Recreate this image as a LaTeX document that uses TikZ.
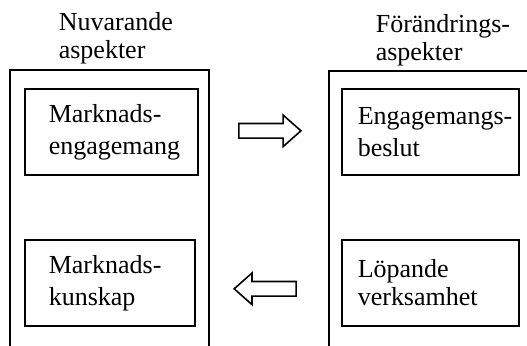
\documentclass[tikz,border=0pt]{standalone}
\usepackage{fontspec}
\setmainfont{Liberation Serif}
\usetikzlibrary{shapes.arrows,calc}

\begin{document}
\begin{tikzpicture}[
    x=0.5pt,y=-0.5pt,
    line width=0.8pt,
    frame/.style={draw,line width=0.9pt},
    aspect/.style={draw,rectangle,anchor=north west,align=left,inner sep=0pt,
        inner xsep=12pt,minimum height=43pt,
        font=\fontsize{13pt}{16pt}\selectfont},
    head/.style={anchor=north west,align=left,inner sep=0pt,
        font=\fontsize{13pt}{14pt}\selectfont},
    blockarrow/.style={draw,single arrow,inner sep=0pt,text height=3.25pt,text depth=3.25pt,
        minimum height=31pt,single arrow head extend=4.25pt,single arrow tip angle=83}
]
\useasboundingbox (0,0) rectangle (527,345);

% Column headings
\node[head] (nuv) at (58,12) {Nuvarande\\aspekter};
\node[head] (forand) at (375,14) {Förändrings-\\aspekter};

% Outer frames (open at the bottom)
\draw[frame] (10,350) -- (10,70) -- (209,70) -- (209,350);
\draw[frame] (329,350) -- (329,71) -- (540,71);

% Aspects
\node[aspect,text width=62.5pt] (markeng) at (24,88) {Marknads-\\engagemang};
\node[aspect,text width=61pt] (markkun) at (24,239) {Marknads-\\kunskap};
\node[aspect,inner xsep=8pt,text width=72.5pt] (engbes) at (341,88) {\mbox{Engagemangs-}\\beslut};
\node[aspect,inner xsep=8pt,text width=72.5pt,font=\fontsize{13pt}{14pt}\selectfont] (lopver) at (341,239) {Löpande\\verksamhet};

% Arrows between the columns
\node[blockarrow] (fwd) at ($(markeng.east)!0.5!(engbes.west)+(-4,-1)$) {};
\node[blockarrow,shape border rotate=180] (back) at ($(markkun.east)!0.5!(lopver.west)+(1,6)$) {};

\end{tikzpicture}
\end{document}
